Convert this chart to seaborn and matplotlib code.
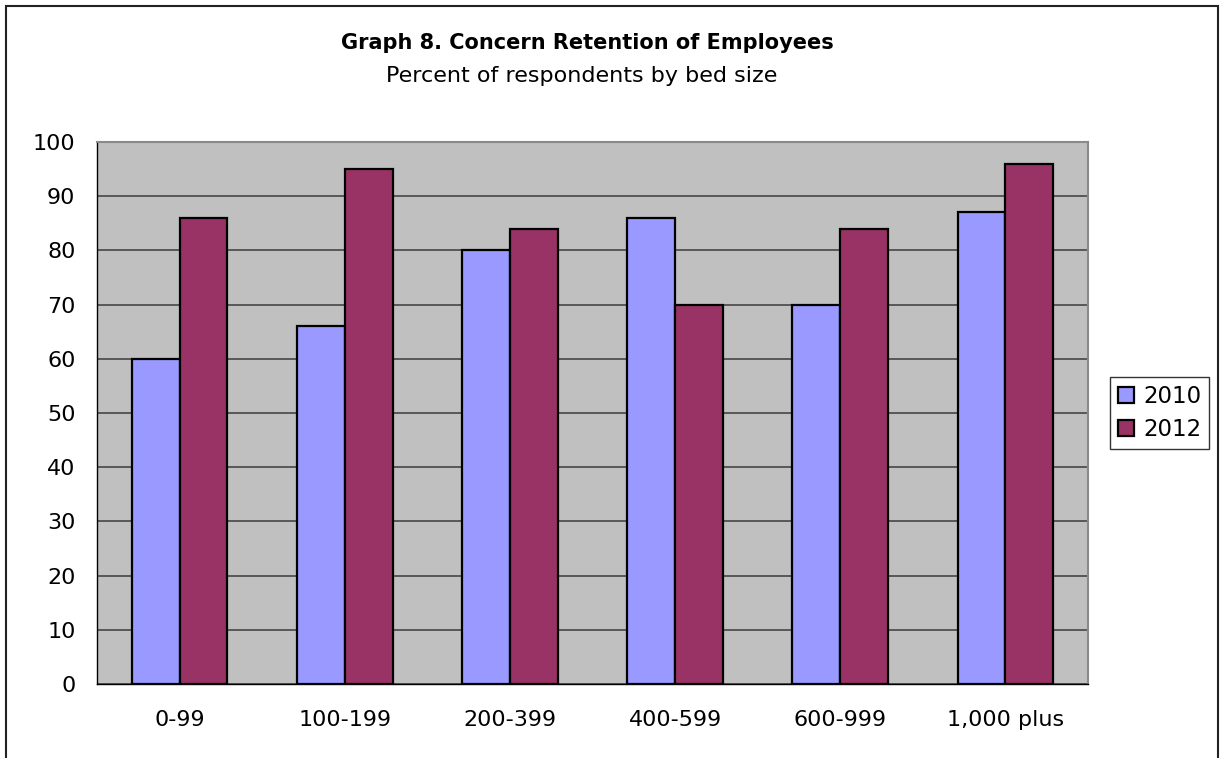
import matplotlib
matplotlib.use("Agg")
import matplotlib.pyplot as plt
import seaborn as sns
import pandas as pd
from matplotlib.patches import Rectangle

categories = ["0-99", "100-199", "200-399", "400-599", "600-999", "1,000 plus"]
years = ["2010", "2012"]
values_2010 = [60, 66, 80, 86, 70, 87]
values_2012 = [86, 95, 84, 70, 84, 96]
yticks = [0, 10, 20, 30, 40, 50, 60, 70, 80, 90, 100]

df = pd.DataFrame({
    "cat": categories * 2,
    "year": [years[0]] * len(categories) + [years[1]] * len(categories),
    "val": values_2010 + values_2012,
})

sns.set_theme(style="white")
plt.rcParams['font.family'] = ['DejaVu Sans']
plt.rcParams['text.color'] = 'black'
plt.rcParams['xtick.color'] = 'black'
plt.rcParams['ytick.color'] = 'black'

fig = plt.figure(figsize=(12.22, 7.58), dpi=100)
W, H = 1222, 758
left, right, top, bottom = 97, 1088, 142, 684
ax = fig.add_axes([left / W, 1 - bottom / H, (right - left) / W, (bottom - top) / H])
ax.set_facecolor("#C0C0C0")

sns.barplot(data=df, x="cat", y="val", hue="year", order=categories, hue_order=years,
            palette={"2010": "#9999FF", "2012": "#993366"}, width=0.58,
            edgecolor="black", linewidth=1.6, saturation=1, ax=ax, zorder=3)

ax.set_ylim(0, 100)
ax.set_xlim(-0.5, len(categories) - 0.5)
ax.set_yticks(yticks)
ax.set_yticklabels([str(t) for t in yticks], fontsize=16)
ax.set_xticks(range(len(categories)))
ax.set_xticklabels(categories, fontsize=16)
ax.tick_params(axis="x", length=0, pad=19)
ax.tick_params(axis="y", length=0, pad=15.5)
# tick marks at category boundaries
ax.set_xticks([i - 0.5 for i in range(len(categories) + 1)], minor=True)
ax.tick_params(axis="x", which="minor", length=7, width=1, direction="out", color="black")
ax.set_yticks(yticks, minor=True)
ax.tick_params(axis="y", which="minor", length=7, width=1, direction="out", color="black")

ax.yaxis.grid(True, color="#505050", linewidth=1.3, zorder=1)
ax.set_axisbelow(True)
ax.set_xlabel("")
ax.set_ylabel("")
for side in ["top", "right"]:
    ax.spines[side].set_color("#8A8A8A")
    ax.spines[side].set_linewidth(1.5)
for side in ["left", "bottom"]:
    ax.spines[side].set_color("black")
    ax.spines[side].set_linewidth(1)

leg = ax.legend(loc="center left", bbox_to_anchor=(1110 / W, 1 - 413 / H),
                bbox_transform=fig.transFigure, frameon=True, fancybox=False,
                fontsize=16.5, handlelength=0.7, handleheight=0.7, handletextpad=0.4,
                borderpad=0.35, labelspacing=0.45, borderaxespad=0)
leg.get_frame().set_edgecolor("black")
leg.get_frame().set_linewidth(1)

fig.text(587 / W, 1 - 43 / H, "Graph 8. Concern Retention of Employees",
         ha="center", va="center", fontsize=15, fontweight="bold")
fig.text(582 / W, 1 - 76 / H, "Percent of respondents by bed size",
         ha="center", va="center", fontsize=16)

frame = Rectangle((6 / W, -0.05), (1218 - 6) / W, 1 - 6 / H + 0.05,
                  transform=fig.transFigure, fill=False, edgecolor="#222222",
                  linewidth=1.5, clip_on=False)
fig.patches.append(frame)

fig.savefig("out.png", dpi=100)
